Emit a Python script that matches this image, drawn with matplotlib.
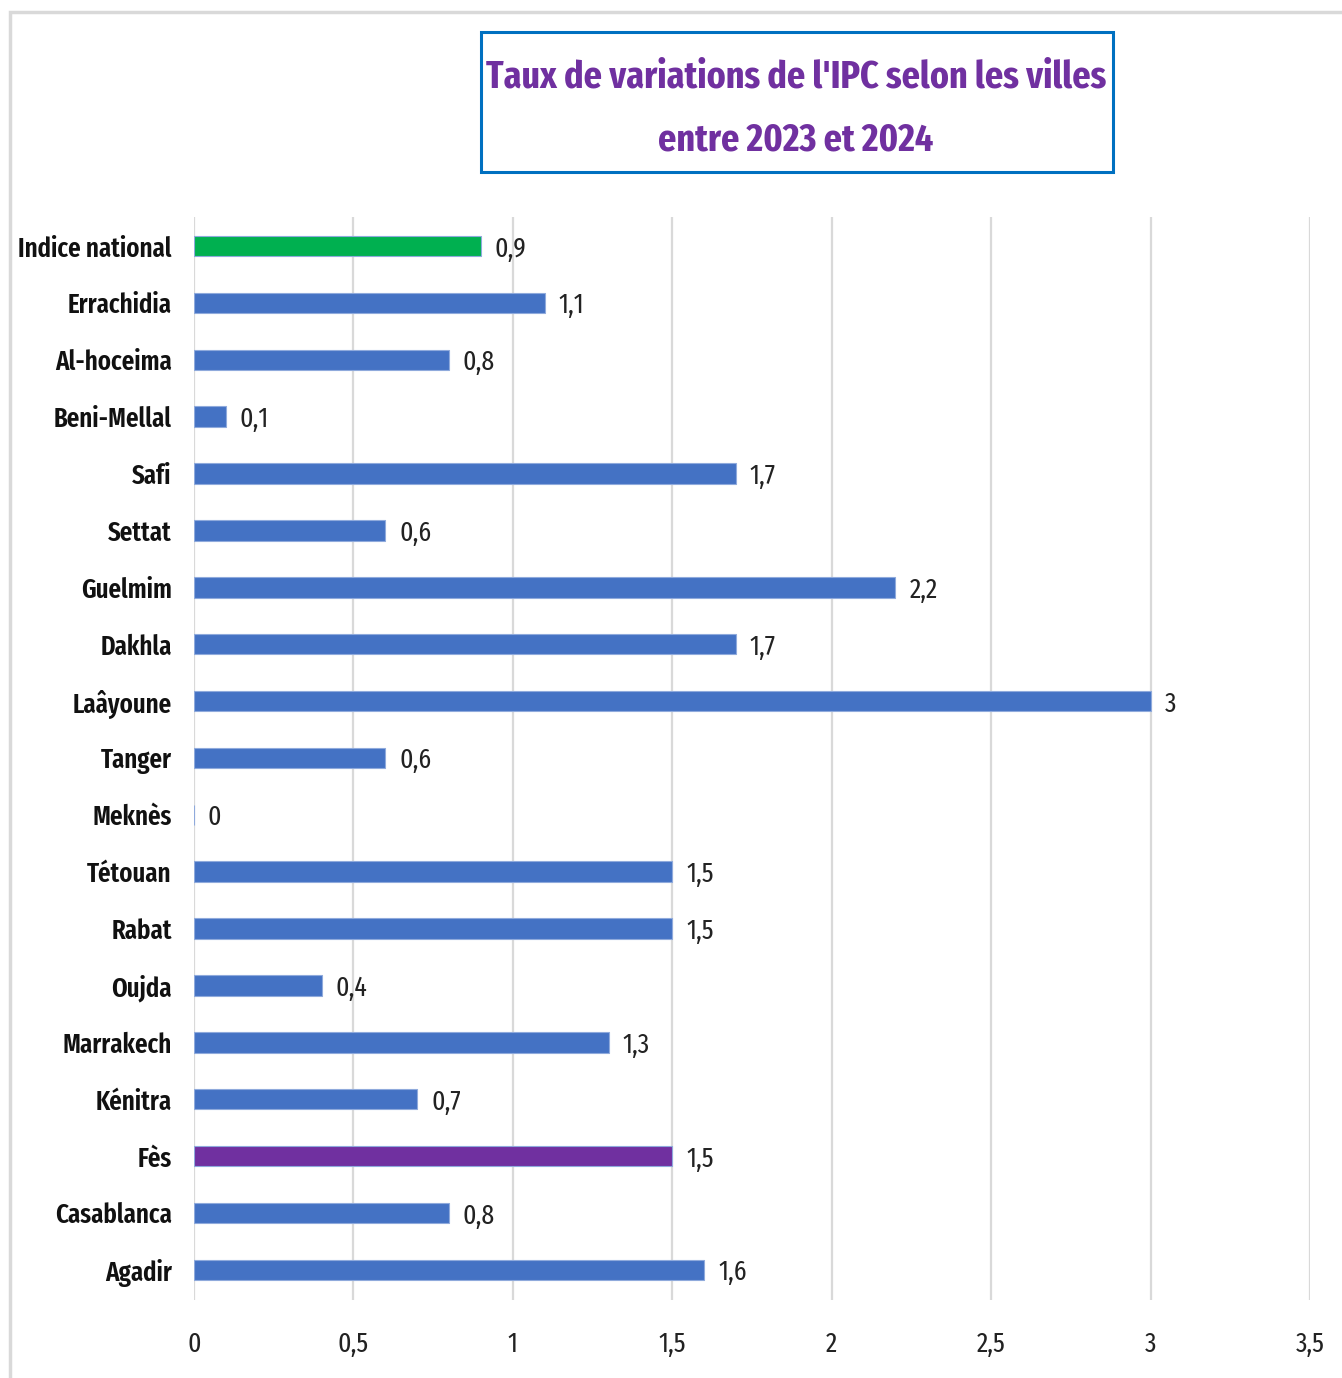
import matplotlib
matplotlib.use("Agg")
import matplotlib.pyplot as plt
from matplotlib.patches import Rectangle
from matplotlib import font_manager

categories = ["Indice national", "Errachidia", "Al-hoceima", "Beni-Mellal", "Safi", "Settat",
              "Guelmim", "Dakhla", "Laâyoune", "Tanger", "Meknès", "Tétouan", "Rabat",
              "Oujda", "Marrakech", "Kénitra", "Fès", "Casablanca", "Agadir"]
values = [0.9, 1.1, 0.8, 0.1, 1.7, 0.6, 2.2, 1.7, 3.0, 0.6, 0, 1.5, 1.5, 0.4, 1.3, 0.7, 1.5, 0.8, 1.6]
labels = ["0,9", "1,1", "0,8", "0,1", "1,7", "0,6", "2,2", "1,7", "3", "0,6", "0", "1,5", "1,5",
          "0,4", "1,3", "0,7", "1,5", "0,8", "1,6"]
xticks = [0, 0.5, 1, 1.5, 2, 2.5, 3, 3.5]
xticklabels = ["0", "0,5", "1", "1,5", "2", "2,5", "3", "3,5"]

BLUE = "#4472C4"
GREEN = "#00B050"
PURPLE = "#7030A0"
colors = [BLUE] * len(categories)
colors[0] = GREEN
colors[categories.index("Fès")] = PURPLE

avail = {f.name for f in font_manager.fontManager.ttflist}
candidates = ["Fira Sans Extra Condensed", "Fira Sans Condensed", "PT Sans Narrow",
              "Open Sans Condensed", "Roboto Condensed", "Archivo Narrow", "Encode Sans Condensed",
              "Asap Condensed", "Liberation Sans Narrow"]
fam = next((c for c in candidates if c in avail), "DejaVu Sans")
plt.rcParams["font.family"] = [fam, "DejaVu Sans"]

W, H = 1342, 1378
fig = plt.figure(figsize=(W / 100, H / 100), dpi=100)

# outer frame
fig.patches.append(Rectangle((10 / W, -0.1), 1.2, 1 - 12 / H + 0.1, transform=fig.transFigure,
                             fill=False, edgecolor="#D9D9D9", linewidth=2.5))

ax = fig.add_axes([194 / W, 1 - 1300 / H, (1310 - 194) / W, (1300 - 217) / H])
y = list(range(len(categories)))
ax.barh(y, values, height=0.36, color=colors, edgecolor="#8FAADC", linewidth=0.8, zorder=3)
ax.set_ylim(len(categories) - 0.47, -0.51)
ax.set_xlim(0, 3.5)
ax.set_xticks(xticks)
ax.set_xticklabels(xticklabels)
ax.set_yticks(y)
ax.set_yticklabels(categories, fontsize=19.5, fontweight="semibold", color="#111111")
ax.tick_params(axis="y", length=0, pad=16)
ax.tick_params(axis="x", length=0, pad=22, labelsize=20, labelcolor="#222222")
ax.grid(axis="x", color="#D9D9D9", linewidth=1.6, zorder=0)
for s in ax.spines.values():
    s.set_visible(False)

for yi, v, lab in zip(y, values, labels):
    ax.annotate(lab, (v, yi), xytext=(10, -2), textcoords="offset points",
                va="center", ha="left", fontsize=20, color="#222222")

# title box
fig.patches.append(Rectangle((481 / W, 1 - 172 / H), (1113 - 481) / W, (172 - 32) / H,
                             transform=fig.transFigure, fill=False, edgecolor="#0070C0", linewidth=2.2))
fig.text(796 / W, 1 - 77 / H, "Taux de variations de l'IPC selon les villes", ha="center", va="center",
         fontsize=28, fontweight="bold", color=PURPLE)
fig.text(796 / W, 1 - 140 / H, "entre 2023 et 2024", ha="center", va="center",
         fontsize=28, fontweight="bold", color=PURPLE)

fig.savefig("out.png", dpi=100, facecolor="white")
